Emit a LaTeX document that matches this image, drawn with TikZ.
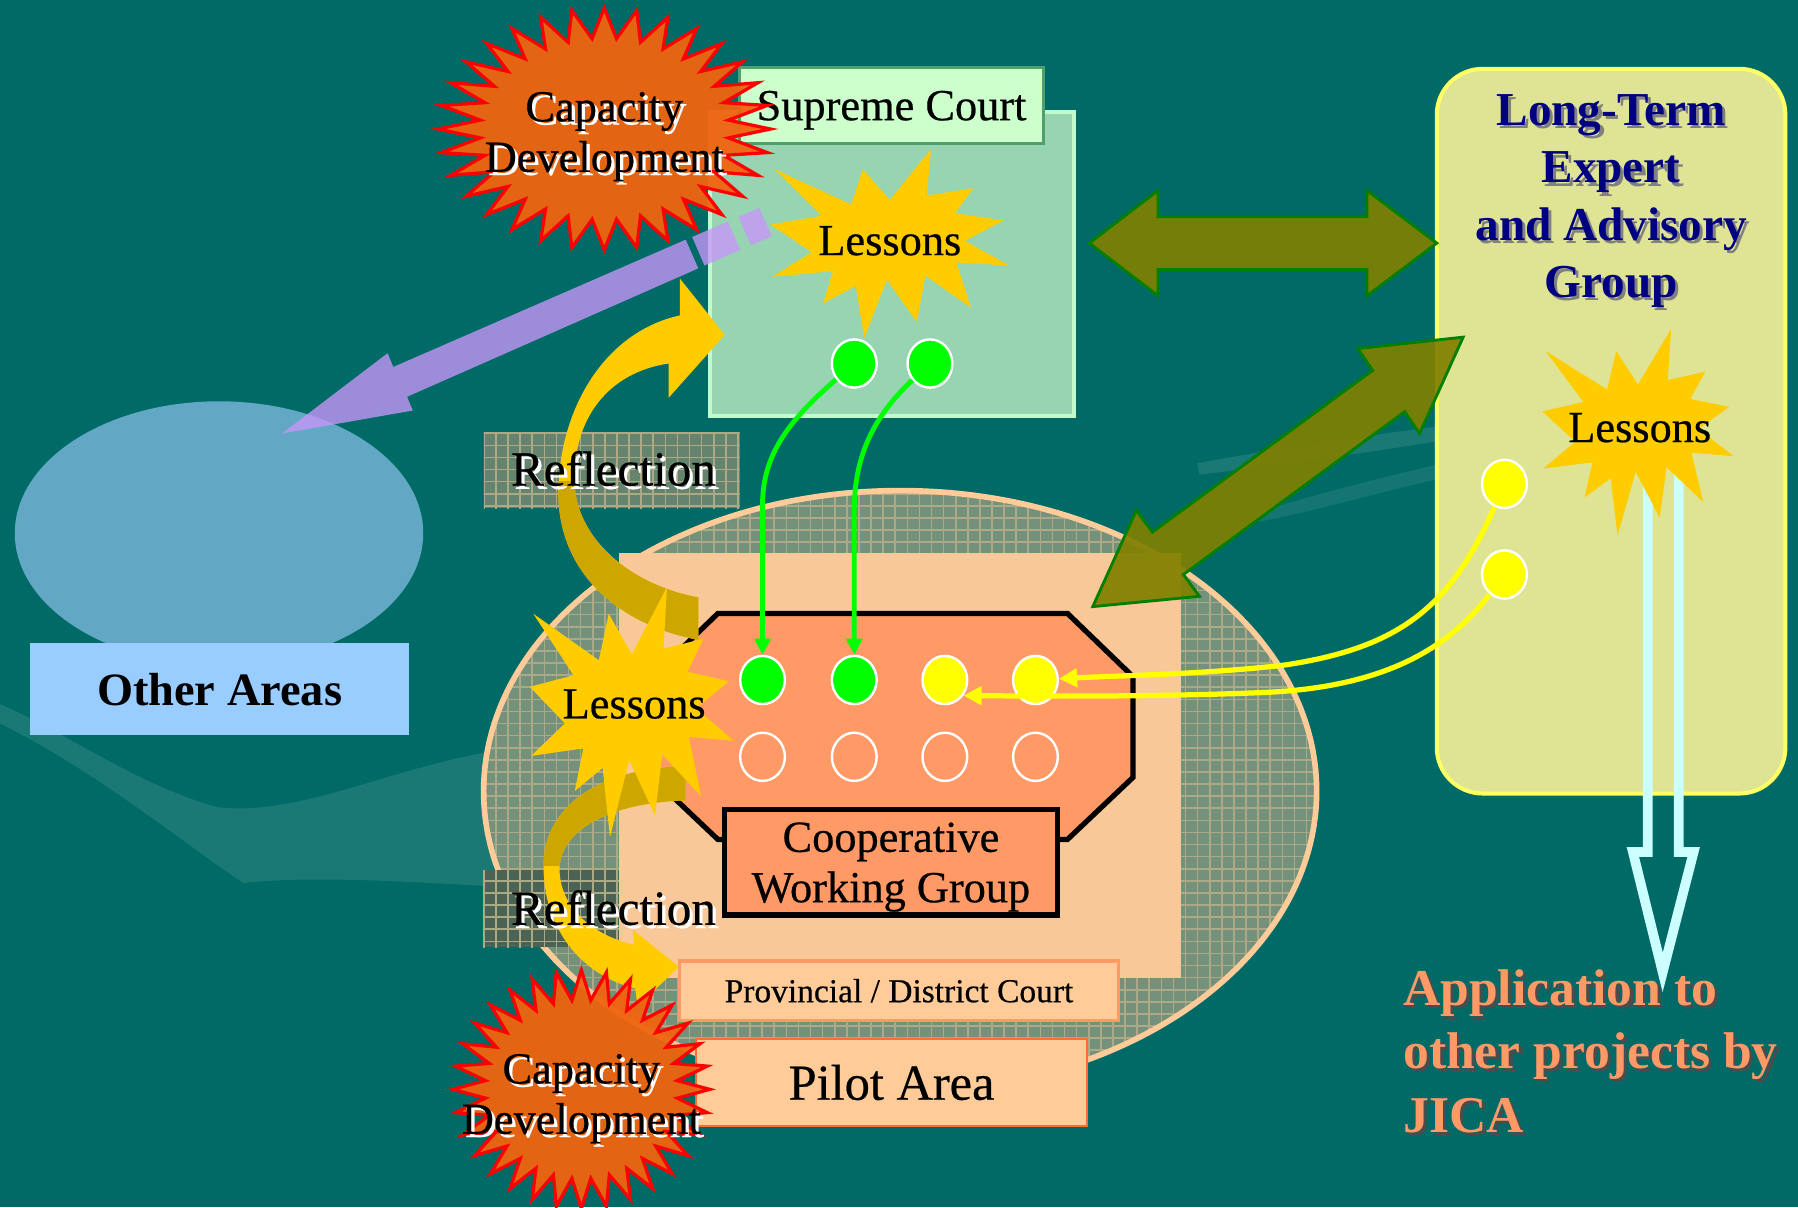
\documentclass[tikz,border=0pt]{standalone}
\usepackage{fontspec}
\setmainfont{Liberation Serif}
\newfontfamily\heavyserif[FakeBold=0.5]{Liberation Serif}
\usetikzlibrary{arrows.meta,shapes.geometric,patterns}

\definecolor{bgteal}{RGB}{0,106,102}
\definecolor{otherfill}{RGB}{98,168,196}
\definecolor{otherblue}{RGB}{153,204,255}
\definecolor{pilotfill}{RGB}{116,145,123}
\definecolor{peach}{RGB}{255,204,153}
\definecolor{peachsq}{RGB}{248,200,152}
\definecolor{salmon}{RGB}{255,153,102}
\definecolor{reflbg}{RGB}{100,132,112}
\definecolor{scfill}{RGB}{150,212,178}
\definecolor{scedge}{RGB}{195,250,205}
\definecolor{sclight}{RGB}{204,255,204}
\definecolor{scline}{RGB}{80,160,110}
\definecolor{ltfill}{RGB}{222,228,148}
\definecolor{ltedge}{RGB}{255,255,102}
\definecolor{ltnavy}{RGB}{0,0,128}
\definecolor{olivefill}{RGB}{128,128,0}
\definecolor{oliveedge}{RGB}{0,128,0}
\definecolor{lav}{RGB}{200,150,250}
\definecolor{gold}{RGB}{255,204,0}
\definecolor{darkgold}{RGB}{206,166,0}
\definecolor{capfill}{RGB}{240,100,15}
\definecolor{grn}{RGB}{0,255,0}
\definecolor{ylw}{RGB}{255,255,0}
\definecolor{paleblue}{RGB}{204,255,255}
\definecolor{pilotedge}{RGB}{255,110,40}

\newcommand{\shadowtxt}[2]{\leavevmode\rlap{\kern0.8pt\raisebox{-0.8pt}{\textcolor{#1}{#2}}}#2}
\newcommand{\sealstar}[4]{plot[samples=65,domain=0:360,variable=\t]
  ({#1+#3*(1-0.25*mod(round(\t/5.625),2))*cos(\t)},{#2+#4*(1-0.25*mod(round(\t/5.625),2))*sin(\t)}) -- cycle}
\newcommand{\explosion}[4]{%
  \fill[lessonstar,shift={(#1,#2)},xscale=#3/216,yscale=#4/216]
    (108,58) -- (145.22,0) -- (141.55,53.25) -- (183.8,44.57) -- (167.02,73.15)
    -- (210.97,81.37) -- (176.07,104.75) -- (216,132.9) -- (168.37,129.42)
    -- (181.45,180.95) -- (140.2,144.57) -- (132.47,197.37) -- (105.32,149.35)
    -- (84.85,216) -- (77.15,156.27) -- (47.62,176.17) -- (56.67,139.37)
    -- (1.35,145.87) -- (37.22,117.75) -- (0,86.15) -- (46.27,76.17) -- (3.7,22.95)
    -- (73.12,63.2) -- (83.52,22.95) -- cycle;}
\newcommand{\reflup}{(609,558) .. controls (540,545) and (487,500) .. (487,430)
  .. controls (487,360) and (525,290) .. (593,275) -- (593,243) -- (632,292)
  -- (583,347) -- (583,317) .. controls (530,325) and (500,365) .. (501,420)
  .. controls (502,470) and (550,510) .. (609,521) -- cycle}
\newcommand{\refldown}{(598,668) .. controls (520,670) and (474,705) .. (474,755)
  .. controls (474,815) and (512,852) .. (554,862) -- (556,878) -- (592,843)
  -- (552,811) -- (553,824) .. controls (515,815) and (488,790) .. (488,758)
  .. controls (488,725) and (530,700) .. (598,698) -- cycle}

\begin{document}
\begin{tikzpicture}[x=0.01cm,y=-0.01cm,
  txt/.style={inner sep=0pt,align=center},
  otherbox/.style={rectangle,fill=otherblue,minimum width=3.31cm,minimum height=0.8cm,
    font=\fontsize{11.5}{13}\selectfont\bfseries},
  courtbox/.style={rectangle,fill=sclight,draw=scline,line width=0.6pt,inner sep=0pt,text depth=0pt,
    minimum width=2.65cm,minimum height=0.66cm,font=\heavyserif\fontsize{11}{13}\selectfont},
  cwgbox/.style={rectangle,fill=salmon,draw=black,line width=1.3pt,align=center,inner sep=0pt,
    text depth=0pt,minimum width=2.9cm,minimum height=0.92cm,font=\heavyserif\fontsize{11}{12.5}\selectfont},
  provbox/.style={rectangle,fill=peach,draw=salmon,line width=0.8pt,inner sep=0pt,
    minimum width=3.82cm,minimum height=0.52cm,font=\heavyserif\fontsize{8.3}{10}\selectfont},
  pilotbox/.style={rectangle,fill=peach,draw=pilotedge,line width=0.6pt,inner sep=0pt,
    minimum width=3.41cm,minimum height=0.76cm,font=\heavyserif\fontsize{12.5}{14}\selectfont},
  dot/.style={ellipse,draw=white,line width=0.6pt,inner sep=0pt,
    minimum width=0.39cm,minimum height=0.42cm},
  gdot/.style={dot,fill=grn},
  ydot/.style={dot,fill=ylw},
  pdot/.style={dot,fill=salmon},
  lessonstar/.style={fill=gold},
  lessontext/.style={txt,font=\heavyserif\fontsize{11}{13}\selectfont},
  capstar/.style={fill=capfill,draw=red,line width=0.8pt,fill opacity=0.95},
  captext/.style={txt,text depth=0pt,font=\heavyserif\fontsize{11}{12.5}\selectfont},
  refltext/.style={txt,font=\heavyserif\fontsize{12.2}{14}\selectfont},
  peachgrid/.style={pattern=grid,pattern color=peach!40!pilotfill},
  olivearrow/.style={fill=olivefill,draw=oliveedge,line width=0.7pt,fill opacity=0.92},
  lavfill/.style={fill=lav,fill opacity=0.78},
  lavseg/.style={draw=lav,draw opacity=0.78,line width=7.7pt},
  greenarrow/.style={draw=grn,line width=1.2pt,-{Triangle[length=4pt,width=4pt]}},
  yellowarrow/.style={draw=ylw,line width=1.3pt,-{Triangle[length=4.5pt,width=4.5pt]}}]

\useasboundingbox (0,0) rectangle (1568,1053);
\clip (0,0) rectangle (1568,1053);
\fill[bgteal] (0,0) rectangle (1568,1053);
% faint swooshes of the backdrop
\fill[white,opacity=0.1] (0,614) .. controls (60,640) and (120,685) .. (190,704)
  .. controls (260,712) and (340,670) .. (430,655) -- (430,773)
  .. controls (340,768) and (270,764) .. (212,770) .. controls (160,735) and (80,670) .. (0,631) -- cycle;
\fill[white,opacity=0.1] (1044,404) .. controls (1120,390) and (1190,380) .. (1253,372)
  -- (1253,385) .. controls (1190,395) and (1120,405) .. (1046,414) -- cycle;
\fill[white,opacity=0.08] (1096,447) .. controls (1150,430) and (1200,418) .. (1253,405)
  -- (1253,418) .. controls (1200,430) and (1150,445) .. (1098,455) -- cycle;

% other areas
\fill[otherfill] (191,465) ellipse [x radius=1.78cm,y radius=1.15cm];
\node[otherbox] (others) at (191.5,601) {Other Areas};

% pilot area
\fill[pilotfill] (785,690) ellipse [x radius=3.63cm,y radius=2.62cm];
\fill[peachgrid] (785,690) ellipse [x radius=3.63cm,y radius=2.62cm];
\draw[peach,line width=1.4pt] (785,690) ellipse [x radius=3.63cm,y radius=2.62cm];
\fill[reflbg!75!black] (421,759) rectangle (645,826);
\fill[peachgrid] (421,759) rectangle (645,826);
\fill[peachsq] (540,482) rectangle (1030,853);
\fill[reflbg] (422,377) rectangle (645,443);
\fill[peachgrid] (422,377) rectangle (645,443);

% supreme court
\filldraw[fill=scfill,draw=scedge,line width=1pt] (619,98) rectangle (937,363);
\node[courtbox] (court) at (777.5,92) {Supreme Court};

% long-term expert
\filldraw[fill=ltfill,draw=ltedge,line width=1pt,rounded corners=0.4cm] (1253,60) rectangle (1557,692);
\node[txt,text depth=0pt,text=ltnavy,font=\fontsize{11.7}{14.2}\selectfont\bfseries] (expert) at (1405,171)
  {\shadowtxt{gray}{Long-Term}\\\shadowtxt{gray}{Expert}\\\shadowtxt{gray}{and Advisory}\\\shadowtxt{gray}{Group}};
\draw[paleblue,line width=2.4pt,line join=miter] (1437,405) -- (1437,743) -- (1424,743)
  -- (1450,848) -- (1477,743) -- (1464,743) -- (1464,405);
\explosion{1345}{287}{167}{180}
\node[lessontext] (ltless) at (1430,373) {Lessons};
\node[ydot] (y1) at (1312,422) {};
\node[ydot] (y2) at (1312,501) {};

% cooperative working group
\filldraw[fill=salmon,draw=black,line width=1.3pt] (626,535) -- (931,535) -- (988,590)
  -- (988,678) -- (931,732) -- (626,732) -- (569,678) -- (569,590) -- cycle;
\node[cwgbox] (cwg) at (777,752) {Cooperative\\Working Group};
\node[gdot] (c1) at (665,593) {};
\node[gdot] (c2) at (745,593) {};
\node[ydot] (c3) at (824,593) {};
\node[ydot] (c4) at (903,593) {};
\foreach \x [count=\i] in {665,745,824,903}
  \node[pdot] (d\i) at (\x,660) {};
\node[provbox] (district) at (784,864) {Provincial / District Court};
\node[pilotbox] (pilot) at (777.5,944) {Pilot Area};

% links with the expert group
\filldraw[olivearrow] (950,212) -- (1010,166) -- (1010,189) -- (1192,189) -- (1192,166)
  -- (1253,212) -- (1192,258) -- (1192,235) -- (1010,235) -- (1010,258) -- cycle;
\filldraw[olivearrow] (953,529) -- (991,445) -- (1005,464) -- (1197,323) -- (1184,304)
  -- (1276,294) -- (1238,378) -- (1225,359) -- (1032,501) -- (1046,520) -- cycle;

% reflection arrows
\fill[gold] \reflup;
\begin{scope}
  \clip (400,420) rectangle (700,600);
  \fill[darkgold] \reflup;
\end{scope}
\fill[gold] \refldown;
\begin{scope}
  \clip (400,600) rectangle (700,755);
  \fill[darkgold] \refldown;
\end{scope}

% lessons
\explosion{672}{130}{208}{165}
\node[lessontext] (scless) at (776,210) {Lessons};
\node[gdot] (g1) at (745,317) {};
\node[gdot] (g2) at (811,317) {};
\explosion{462}{512}{178}{218}
\node[lessontext] (cwgless) at (553,614) {Lessons};

% capacity development
\filldraw[capstar] \sealstar{527}{112.5}{145}{105.5};
\node[captext] (capcourt) at (527,115) {\shadowtxt{white}{Capacity}\\\shadowtxt{white}{Development}};
\filldraw[capstar] \sealstar{507}{950}{112}{104};
\node[captext] (cappilot) at (507,954) {\shadowtxt{white}{Capacity}\\\shadowtxt{white}{Development}};

% to other areas
\fill[lavfill] (598,209) -- (343,320) -- (338,308) -- (246,378) -- (360,358) -- (355,346) -- (609,234) -- cycle;
\draw[lavseg] (609.0,219.1) -- (640.2,205.6);
\draw[lavseg] (649.4,201.6) -- (667.7,193.6);

% flows of the lessons
\draw[greenarrow] (g1) .. controls (690,365) and (665,395) .. (665,440) -- (c1);
\draw[greenarrow] (g2) .. controls (760,365) and (745,400) .. (745,445) -- (c2);
\draw[yellowarrow] (y1) .. controls (1265,530) and (1220,565) .. (1120,580)
  .. controls (1050,588) and (980,589) .. (c4);
\draw[yellowarrow] (y2) .. controls (1260,570) and (1200,600) .. (1100,604)
  .. controls (1000,608) and (900,607) .. (c3.-40);

\node[refltext] (reflup) at (535,410) {\shadowtxt{white}{Reflection}};
\node[refltext] (refldown) at (535,793) {\shadowtxt{white}{Reflection}};
\node[txt,align=left,anchor=west,text=salmon,font=\fontsize{12.8}{15.8}\selectfont\bfseries] (jica) at (1223,918)
  {\shadowtxt{black!70}{Application to}\\\shadowtxt{black!70}{other projects by}\\\shadowtxt{black!70}{JICA}};
\end{tikzpicture}
\end{document}
